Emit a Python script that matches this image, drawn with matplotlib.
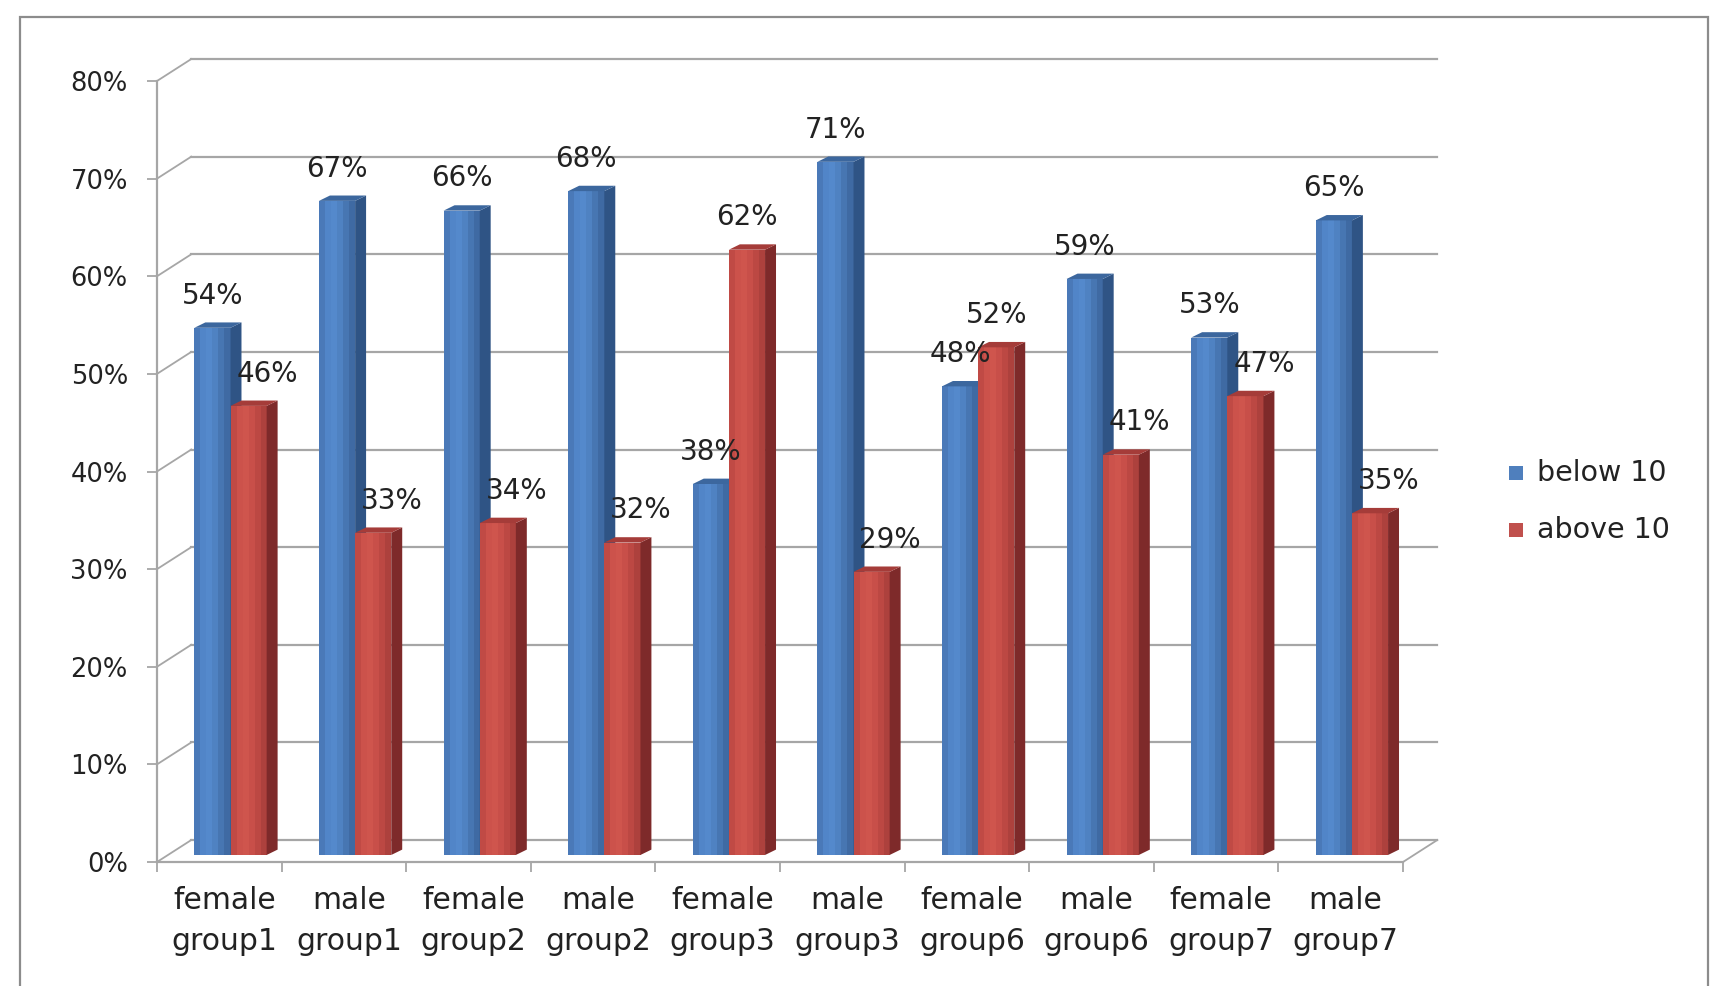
import numpy as np
import matplotlib
matplotlib.use("Agg")
import matplotlib.pyplot as plt
from matplotlib.patches import Polygon, Rectangle
from matplotlib.ticker import PercentFormatter

# data
categories = ["female\ngroup1", "male\ngroup1", "female\ngroup2", "male\ngroup2",
              "female\ngroup3", "male\ngroup3", "female\ngroup6", "male\ngroup6",
              "female\ngroup7", "male\ngroup7"]
below_10 = [0.54, 0.67, 0.66, 0.68, 0.38, 0.71, 0.48, 0.59, 0.53, 0.65]
above_10 = [0.46, 0.33, 0.34, 0.32, 0.62, 0.29, 0.52, 0.41, 0.47, 0.35]
series_names = ["below 10", "above 10"]
y_ticks = [0.0, 0.1, 0.2, 0.3, 0.4, 0.5, 0.6, 0.7, 0.8]

# colours: front strips (left -> right), side, top
blue_front = ["#4a79b8", "#5185c8", "#5489cc", "#4f82c2", "#4776b2", "#3f6aa3"]
blue_side, blue_top = "#2f5485", "#3c679e"
red_front = ["#c04a45", "#cc524b", "#cf554d", "#c84f49", "#bc4843", "#ad413d"]
red_side, red_top = "#7e2a2a", "#a53c39"
grid_col = "#a6a6a6"
text_col = "#222222"

plt.rcParams["font.family"] = ["DejaVu Sans"]

W, H = 1724, 986
fig = plt.figure(figsize=(W / 100, H / 100), dpi=100)
ax = fig.add_axes([157 / W, (H - 862) / H, 1246 / W, 781 / H])

n = len(categories)
x = np.arange(n)
ax.set_xlim(0, n)
ax.set_ylim(0, 0.8)

# 3d-ish geometry (data units)
wall_dx, wall_dy = 0.275, 0.0225      # depth of back wall
bar_dx, bar_dy = 0.088, 0.0055        # depth of each bar
shift_y = 0.0072                      # bars sit a bit back from the front edge
bw = 0.29

# back wall grid lines + left diagonals
for t in y_ticks:
    ax.plot([wall_dx, n + wall_dx], [t + wall_dy, t + wall_dy], color=grid_col,
            lw=1.6, clip_on=False, zorder=1)
    ax.plot([0, wall_dx], [t, t + wall_dy], color=grid_col, lw=1.3,
            clip_on=False, zorder=1)
ax.plot([0, n], [0, 0], color=grid_col, lw=1.6, clip_on=False, zorder=1)
ax.plot([n, n + wall_dx], [0, wall_dy], color=grid_col, lw=1.3, clip_on=False, zorder=1)
ax.plot([0, 0], [0, 0.8], color=grid_col, lw=1.6, clip_on=False, zorder=1)


def draw_bars(x0, vals, fronts, side, top, z):
    k = len(fronts)
    for j, c in enumerate(fronts):
        ax.bar(x0 + j * bw / k, vals, width=bw / k + 0.002, bottom=shift_y,
               align="edge", color=c, lw=0, zorder=z)
    for xi, v in zip(x0, vals):
        y1 = shift_y + v
        ax.add_patch(Polygon([(xi + bw, shift_y), (xi + bw + bar_dx, shift_y + bar_dy),
                              (xi + bw + bar_dx, y1 + bar_dy), (xi + bw, y1)],
                             closed=True, color=side, lw=0, zorder=z))
        ax.add_patch(Polygon([(xi, y1), (xi + bar_dx, y1 + bar_dy),
                              (xi + bw + bar_dx, y1 + bar_dy), (xi + bw, y1)],
                             closed=True, color=top, lw=0, zorder=z))


x_blue = x + 0.30
x_red = x + 0.59
draw_bars(x_blue, below_10, blue_front, blue_side, blue_top, 3)
draw_bars(x_red, above_10, red_front, red_side, red_top, 4)

# data labels
for xb, xr, b, r in zip(x_blue, x_red, below_10, above_10):
    ax.text(xb + bw / 2, b + shift_y + 0.033, f"{b:.0%}", ha="center", va="center",
            fontsize=20, color=text_col, zorder=6)
    off = 0.15 if r < b else 0.0
    ax.text(xr + bw / 2 + off, r + shift_y + 0.033, f"{r:.0%}", ha="center",
            va="center", fontsize=20, color=text_col, zorder=6)

# axes / ticks
for s in ax.spines.values():
    s.set_visible(False)
ax.set_yticks(y_ticks)
ax.yaxis.set_major_formatter(PercentFormatter(1.0, decimals=0))
ax.tick_params(axis="y", length=7, width=1.3, color=grid_col, pad=14,
               labelsize=18.5, labelcolor=text_col)
ax.set_xticks(np.arange(n + 1))
ax.set_xticklabels([])
ax.set_xticks(x + 0.54, minor=True)
ax.set_xticklabels(categories, minor=True)
ax.tick_params(axis="x", which="major", length=7, width=1.3, color=grid_col)
ax.tick_params(axis="x", which="minor", length=0, pad=17, labelsize=21.5,
               labelcolor=text_col)
for lab in ax.get_xticklabels(minor=True):
    lab.set_linespacing(1.55)
ax.patch.set_alpha(0)

# legend drawn in figure pixels
for i, (name, c) in enumerate(zip(series_names, ["#4f7fbd", "#c0504d"])):
    yc = 473 + i * 57
    fig.patches.append(Rectangle(((1509) / W, (H - yc - 7) / H), 14 / W, 14 / H,
                                 transform=fig.transFigure, color=c, lw=0))
    fig.text(1537 / W, (H - yc) / H, name, fontsize=20.5, color=text_col,
             ha="left", va="center")

# chart border
fig.patches.append(Rectangle((20 / W, -0.02), (1708 - 20) / W, (H - 17) / H + 0.02,
                             transform=fig.transFigure, fill=False,
                             edgecolor="#8c8c8c", lw=1.6))

fig.savefig("out.png", dpi=100)
